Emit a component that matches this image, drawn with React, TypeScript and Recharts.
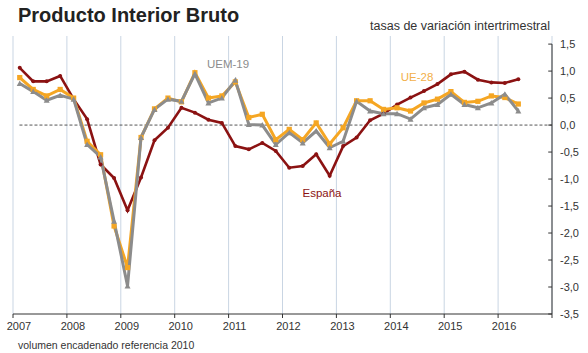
import {
  CartesianGrid,
  Line,
  LineChart,
  ReferenceLine,
  XAxis,
  YAxis,
} from "recharts";

// tasas de variación intertrimestral, 2007T1 .. 2016T2
const years = [2007, 2008, 2009, 2010, 2011, 2012, 2013, 2014, 2015, 2016];
const quarters = [1, 2, 3, 4];

const espana = [
  1.06, 0.81, 0.81, 0.91, 0.48, 0.11, -0.73, -0.98, -1.58, -0.97, -0.28, -0.05,
  0.32, 0.23, 0.1, 0.04, -0.39, -0.45, -0.33, -0.48, -0.79, -0.76, -0.54, -0.94,
  -0.39, -0.23, 0.09, 0.21, 0.38, 0.51, 0.63, 0.76, 0.94, 0.99, 0.84, 0.79,
  0.78, 0.85,
];
const ue28 = [
  0.88, 0.66, 0.54, 0.66, 0.5, -0.3, -0.55, -1.87, -2.64, -0.23, 0.3, 0.5,
  0.43, 0.97, 0.5, 0.54, 0.8, 0.14, 0.2, -0.27, -0.08, -0.27, 0.04, -0.35,
  -0.05, 0.45, 0.45, 0.29, 0.32, 0.26, 0.41, 0.48, 0.62, 0.42, 0.44, 0.54,
  0.51, 0.39,
];
const uem19 = [
  0.77, 0.62, 0.46, 0.55, 0.48, -0.36, -0.59, -1.78, -2.98, -0.23, 0.29, 0.48,
  0.44, 0.95, 0.41, 0.5, 0.83, 0.01, 0.0, -0.36, -0.14, -0.33, -0.11, -0.42,
  -0.3, 0.44, 0.26, 0.21, 0.21, 0.11, 0.32, 0.38, 0.57, 0.38, 0.32, 0.41,
  0.57, 0.26,
];

const xTicks = [2007, 2008, 2009, 2010, 2011, 2012, 2013, 2014, 2015, 2016, 2017];
const yTicks = [1.5, 1.0, 0.5, 0.0, -0.5, -1.0, -1.5, -2.0, -2.5, -3.0, -3.5];

const ORANGE = "#f5a623";
const GRAY = "#8c8c8c";
const RED = "#8b1212";
const INK = "#333333";
const FONT = "Arial, 'Liberation Sans', sans-serif";

const periods: { x: number; label: string }[] = [];
years.forEach((y) =>
  quarters.forEach((q) => periods.push({ x: y + (q - 0.5) / 4, label: `${y}T${q}` }))
);

const data = espana.map((v, i) => ({
  x: periods[i].x,
  periodo: periods[i].label,
  espana: v,
  ue28: ue28[i],
  uem19: uem19[i],
}));

const fmt = (v: number) => v.toFixed(1).replace(".", ",");

function XTick({ x, y, payload }: any) {
  if (payload.value === 2017) return null;
  return (
    <text x={x + 6} y={y + 10} textAnchor="middle" fontSize={11} fill={INK} fontFamily={FONT}>
      {payload.value}
    </text>
  );
}

function YTick({ x, y, payload }: any) {
  return (
    <text x={x} y={y + 4} textAnchor="start" fontSize={11} fill={INK} fontFamily={FONT}>
      {fmt(payload.value)}
    </text>
  );
}

const SquareDot = ({ cx, cy }: any) =>
  cx == null ? null : <rect x={cx - 2.6} y={cy - 2.6} width={5.2} height={5.2} fill={ORANGE} />;

const TriDot = ({ cx, cy }: any) =>
  cx == null ? null : (
    <path d={`M${cx - 3},${cy + 2.5}L${cx + 3},${cy + 2.5}L${cx},${cy - 3}Z`} fill={GRAY} />
  );

const RoundDot = ({ cx, cy }: any) =>
  cx == null ? null : <circle cx={cx} cy={cy} r={2} fill={RED} />;

export default function App() {
  return (
    <div style={{ position: "absolute", left: 0, top: 0, width: 588, height: 353, background: "#fff" }}>
      <LineChart
        width={588}
        height={353}
        data={data}
        margin={{ top: 36, right: 0, left: 13, bottom: 0 }}
      >
        <CartesianGrid horizontal={false} stroke="#c9d5e3" />
        <XAxis
          type="number"
          dataKey="x"
          domain={[2007, 2017]}
          ticks={xTicks}
          interval={0}
          height={39}
          axisLine={{ stroke: INK }}
          tickLine={{ stroke: INK }}
          tickSize={4}
          tick={<XTick />}
        />
        <YAxis
          orientation="right"
          domain={[-3.5, 1.65]}
          ticks={yTicks}
          interval={0}
          width={36}
          axisLine={false}
          tickLine={false}
          tick={<YTick />}
        />
        <ReferenceLine
          segment={[
            { x: 2007.12, y: 0 },
            { x: 2017, y: 0 },
          ]}
          stroke="#555"
          strokeDasharray="3 2"
        />
        <ReferenceLine
          segment={[
            { x: 2017, y: -3.5 },
            { x: 2017, y: 1.5 },
          ]}
          stroke={INK}
        />
        {yTicks.map((t) => (
          <ReferenceLine
            key={t}
            segment={[
              { x: 2016.93, y: t },
              { x: 2017, y: t },
            ]}
            stroke={INK}
          />
        ))}
        <Line
          dataKey="espana"
          stroke={RED}
          strokeWidth={2.6}
          dot={<RoundDot />}
          activeDot={false}
          isAnimationActive={false}
        />
        <Line
          dataKey="ue28"
          stroke={ORANGE}
          strokeWidth={3}
          dot={<SquareDot />}
          activeDot={false}
          isAnimationActive={false}
        />
        <Line
          dataKey="uem19"
          stroke={GRAY}
          strokeWidth={3}
          dot={<TriDot />}
          activeDot={false}
          isAnimationActive={false}
        />
      </LineChart>
      <svg
        width={588}
        height={353}
        style={{ position: "absolute", left: 0, top: 0, pointerEvents: "none" }}
        fontFamily={FONT}
      >
        <text x={18} y={22} fontSize={20} fontWeight="bold" fill="#222">
          Producto Interior Bruto
        </text>
        <text x={550} y={30} fontSize={12.5} fill={INK} textAnchor="end">
          tasas de variación intertrimestral
        </text>
        <text x={228} y={68} fontSize={11.5} fill={GRAY} textAnchor="middle">
          UEM-19
        </text>
        <text x={322} y={197} fontSize={11.5} fill={RED} textAnchor="middle">
          España
        </text>
        <text x={417} y={81} fontSize={11.5} fill="#f2b04a" textAnchor="middle">
          UE-28
        </text>
        <text x={18} y={349} fontSize={10.5} fill={INK}>
          volumen encadenado referencia 2010
        </text>
      </svg>
    </div>
  );
}
